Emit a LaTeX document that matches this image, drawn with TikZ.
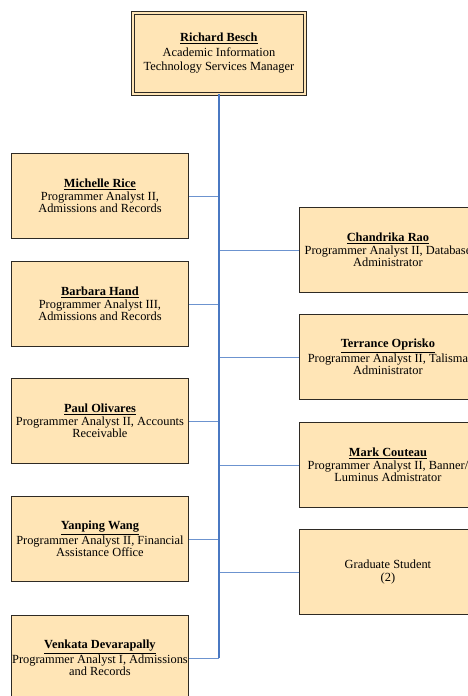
\documentclass[tikz,border=0pt]{standalone}
\usepackage{fontspec}
\setmainfont{Liberation Serif}
\definecolor{boxfill}{HTML}{FFE5B6}
\definecolor{boxline}{HTML}{2E2A24}
\definecolor{trunkblue}{HTML}{4A78C2}
\definecolor{linkblue}{HTML}{6C93CF}
\begin{document}
\begin{tikzpicture}[x=1pt,y=-1pt,
  staff/.style={draw=boxline, line width=0.9pt, fill=boxfill,
    minimum width=177pt, minimum height=85pt, inner sep=0pt,
    align=center, anchor=north west,
    font=\fontsize{12.4}{12.6}\selectfont},
  head/.style={staff, double=boxfill, double distance=1.6pt, line width=0.8pt,
    minimum width=172pt, minimum height=81pt,
    font=\fontsize{12.4}{14.4}\selectfont},
  trunk/.style={draw=trunkblue, line width=1.8pt},
  link/.style={draw=linkblue, line width=0.9pt}]
\clip (0,0) rectangle (468,696);

% manager
\node[head] (rb) at (132.5,12.5)
  {\underline{\textbf{Richard Besch}}\\Academic Information\\Technology Services Manager};

% left column
\node[staff] (mr) at (11,153)
  {\underline{\textbf{Michelle Rice}}\\Programmer Analyst II,\\Admissions and Records};
\node[staff] (bh) at (11,261)
  {\underline{\textbf{Barbara Hand}}\\Programmer Analyst III,\\Admissions and Records};
\node[staff] (po) at (11,378)
  {\underline{\textbf{Paul Olivares}}\\Programmer Analyst II, Accounts\\Receivable};
\node[staff] (yw) at (11,496)
  {\underline{\textbf{Yanping Wang}}\\Programmer Analyst II, Financial\\Assistance Office};
\node[staff] (vd) at (11,615)
  {\underline{\textbf{Venkata Devarapally}}\\Programmer Analyst I, Admissions\\and Records};

% right column
\node[staff] (cr) at (299,207)
  {\underline{\textbf{Chandrika Rao}}\\Programmer Analyst II, Database\\Administrator};
\node[staff] (to) at (299,314)
  {\underline{\textbf{Terrance Oprisko}}\\Programmer Analyst II, Talisma\\Administrator};
\node[staff] (mc) at (299,422)
  {\underline{\textbf{Mark Couteau}}\\Programmer Analyst II, Banner/\\Luminus Admistrator};
\node[staff] (gs) at (299,529)
  {Graduate Student\\(2)};

% reporting lines
\foreach \n in {mr,bh,po,yw,vd}
  \draw[link] (\n.east) -- (\n.east -| rb.south);
\foreach \n in {cr,to,mc,gs}
  \draw[link] (\n.west) -- (\n.west -| rb.south);
\draw[trunk] (rb.south) -- (vd.east -| rb.south);
\end{tikzpicture}
\end{document}
